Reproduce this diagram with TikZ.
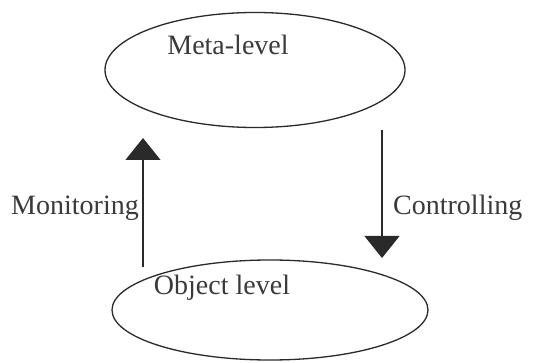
\documentclass[tikz,border=0pt]{standalone}
\usepackage{fontspec}
\setmainfont{Liberation Serif}
\usetikzlibrary{shapes.geometric,arrows.meta}
\definecolor{ink}{HTML}{2A2A2A}
\definecolor{txt}{HTML}{3A3A3A}
\begin{document}
\begin{tikzpicture}[x=1pt,y=1pt,
  level/.style={ellipse,draw=ink,line width=1.3pt,inner sep=0pt},
  lbl/.style={text=txt,font=\fontsize{28}{31}\selectfont,inner sep=0pt},
  flow/.style={draw=ink,line width=1.3pt,-{Triangle[width=35pt,length=22pt]}}]
  \useasboundingbox[fill=white] (0,0) rectangle (536,362);
  % the two levels
  \node[level,minimum width=300pt,minimum height=115pt] (meta) at (255,292) {};
  \node[level,minimum width=316pt,minimum height=100pt] (obj) at (270,52) {};
  % their titles, set near the top of each ellipse
  \node[lbl] (metat) at (228,317) {Meta-level};
  \node[lbl] (objt) at (222,74) {Object level};
  % arrow end points
  \coordinate (monA) at (143,95);
  \coordinate (monB) at (143,224);
  \coordinate (conA) at (382,232);
  \coordinate (conB) at (382,104);
  \draw[flow] (monA) -- (monB);
  \draw[flow] (conA) -- (conB);
  % arrow labels
  \node[lbl,anchor=east] (mon) at (139,154) {Monitoring};
  \node[lbl,anchor=west] (con) at (393,154) {Controlling};
\end{tikzpicture}
\end{document}
